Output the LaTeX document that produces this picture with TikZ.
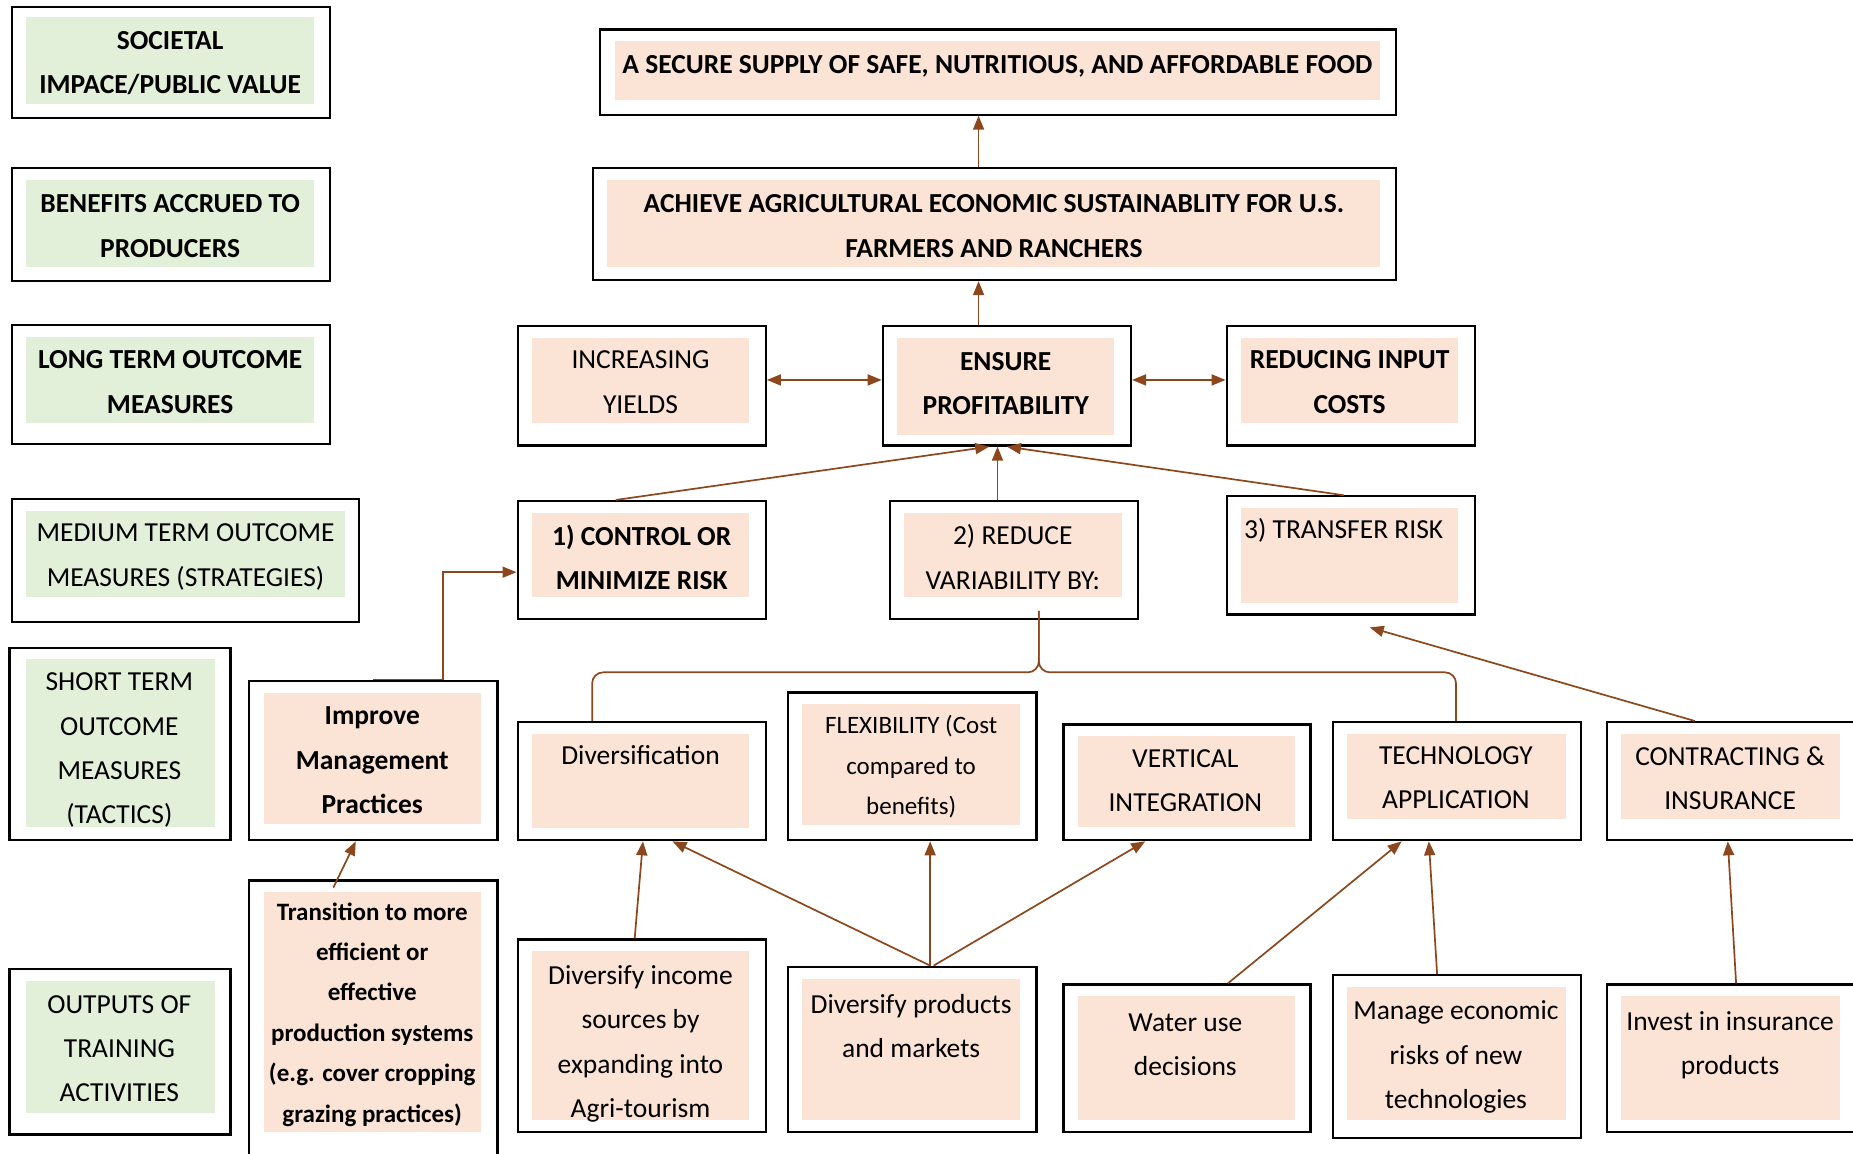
\documentclass[tikz,border=0pt]{standalone}
\usepackage{fontspec}
\setmainfont{Carlito}
\usetikzlibrary{arrows.meta,fit,calc}
\definecolor{salm}{HTML}{FBE4D5}
\definecolor{grn}{HTML}{E2EFD9}
\definecolor{brn}{RGB}{140,72,28}
\tikzset{
 outerbox/.style={draw=black, line width=2.2pt, inner sep=0pt, fill=white},
 txt/.style={align=center, font=\fontsize{27.5}{44.2}\selectfont, inner sep=0pt, yshift=-2.2pt},
 smalltxt/.style={align=center, font=\fontsize{25}{40.4}\selectfont, inner sep=0pt, yshift=-2.2pt},
 conn/.style={draw=brn, line width=1.7pt},
 arr/.style={conn, -{Triangle[length=14pt,width=11pt]}},
 darr/.style={conn, {Triangle[length=14pt,width=11pt]}-{Triangle[length=14pt,width=11pt]}},
}
\newcommand\mkbox[7]{% name, x1,y1,x2,y2, inner corners, colour
  \node[outerbox, fit={(#2,#3) (#4,#5)}] (#1) {};
  \fill[#7] #6;
}
\begin{document}
\begin{tikzpicture}[x=1.1818pt,y=-1.1818pt]
\useasboundingbox[fill=white] (0,0) rectangle (1568,976);
% left column
\mkbox{soc}{10}{6}{279}{100}{(22,14) rectangle (266,88)}{grn}
\node[txt] (soct) at (144,51.5) {\bfseries SOCIETAL\\\bfseries IMPACE/PUBLIC VALUE};
\mkbox{ben}{10}{142}{279}{238}{(22,152) rectangle (266,226)}{grn}
\node[txt] (bent) at (144,189.5) {\bfseries BENEFITS ACCRUED TO\\\bfseries PRODUCERS};
\mkbox{lng}{10}{275}{279}{376}{(22,285) rectangle (266,358)}{grn}
\node[txt] (lngt) at (144,321.5) {\bfseries LONG TERM OUTCOME\\\bfseries MEASURES};
\mkbox{med}{10}{422}{304}{526}{(22,432) rectangle (292,505)}{grn}
\node[txt] (medt) at (157,469.5) {MEDIUM TERM OUTCOME\\MEASURES (STRATEGIES)};
\mkbox{sht}{8}{548}{195}{711}{(22,558) rectangle (182,700)}{grn}
\node[txt] (shtt) at (101,633) {SHORT TERM\\OUTCOME\\MEASURES\\(TACTICS)};
\mkbox{outp}{8}{820}{195}{960}{(22,830) rectangle (182,942)}{grn}
\node[txt] (outpt) at (101,885.5) {OUTPUTS OF\\TRAINING\\ACTIVITIES};
% top
\mkbox{sec}{508}{25}{1181}{97}{(520,35) rectangle (1168,85)}{salm}
\node[txt] (sect) at (844,54) {\bfseries A SECURE SUPPLY OF SAFE, NUTRITIOUS, AND AFFORDABLE FOOD};
\mkbox{ach}{502}{142}{1181}{237}{(514,152) rectangle (1168,226)}{salm}
\node[txt] (acht) at (841,189.5) {\bfseries ACHIEVE AGRICULTURAL ECONOMIC SUSTAINABLITY FOR U.S.\\\bfseries FARMERS AND RANCHERS};
\mkbox{inc}{438}{276}{648}{377}{(450,286) rectangle (634,358)}{salm}
\node[txt] (inct) at (542,321.5) {INCREASING\\YIELDS};
\mkbox{ens}{747}{276}{957}{377}{(759,286) rectangle (943,368)}{salm}
\node[txt] (enst) at (851,322.5) {\bfseries ENSURE\\\bfseries PROFITABILITY};
\mkbox{red}{1038}{276}{1248}{377}{(1050,286) rectangle (1234,358)}{salm}
\node[txt] (redt) at (1142,321.5) {\bfseries REDUCING INPUT\\\bfseries COSTS};
\mkbox{ctl}{438}{424}{648}{524}{(450,434) rectangle (634,505)}{salm}
\node[txt] (ctlt) at (543,469.5) {\bfseries 1) CONTROL OR\\\bfseries MINIMIZE RISK};
\mkbox{rdv}{753}{424}{963}{524}{(765,434) rectangle (949,505)}{salm}
\node[txt] (rdvt) at (857,469.5) {2) REDUCE\\VARIABILITY BY:};
\mkbox{trf}{1038}{420}{1248}{520}{(1050,430) rectangle (1234,510)}{salm}
\node[txt] (trft) at (1137,447) {3) TRANSFER RISK};
% tactics row
\mkbox{imp}{211}{576}{421}{711}{(223,586) rectangle (407,697)}{salm}
\node[txt] (impt) at (315,641.5) {\bfseries Improve\\\bfseries Management\\\bfseries Practices};
\mkbox{div}{438}{611}{648}{711}{(450,621) rectangle (634,701)}{salm}
\node[txt] (divt) at (542,637) {Diversification};
\mkbox{flx}{667}{586}{877}{711}{(679,596) rectangle (863,698)}{salm}
\node[smalltxt] (flxt) at (771,647) {FLEXIBILITY (Cost\\compared to\\benefits)};
\mkbox{vrt}{900}{613}{1109}{711}{(912,623) rectangle (1096,700)}{salm}
\node[txt] (vrtt) at (1003,658.5) {VERTICAL\\INTEGRATION};
\mkbox{tec}{1128}{611}{1338}{711}{(1140,621) rectangle (1325,693)}{salm}
\node[txt] (tect) at (1232,656.5) {TECHNOLOGY\\APPLICATION};
\mkbox{con}{1360}{611}{1572}{711}{(1372,621) rectangle (1557,693)}{salm}
\node[txt] (cont) at (1464,656.5) {CONTRACTING \&\\INSURANCE};
% outputs row
\mkbox{trn}{211}{745}{421}{980}{(223,755) rectangle (407,958)}{salm}
\node[smalltxt] (trnt) at (315,856.5) {\bfseries Transition to more\\\bfseries efficient or\\\bfseries effective\\\bfseries production systems\\\bfseries (e.g. cover cropping\\\bfseries grazing practices)};
\mkbox{dvi}{438}{795}{648}{958}{(450,805) rectangle (634,948)}{salm}
\node[txt] (dvit) at (542,881.5) {Diversify income\\sources by\\expanding into\\Agri-tourism};
\mkbox{dvp}{667}{818}{877}{958}{(679,828) rectangle (863,948)}{salm}
\node[txt] (dvpt) at (771,866.5) {Diversify products\\and markets};
\mkbox{wat}{900}{833}{1109}{958}{(912,843) rectangle (1096,948)}{salm}
\node[txt] (watt) at (1003,882.5) {Water use\\decisions};
\mkbox{man}{1128}{825}{1338}{963}{(1140,835) rectangle (1325,948)}{salm}
\node[txt] (mant) at (1232,892.5) {Manage economic\\risks of new\\technologies};
\mkbox{inv}{1360}{833}{1572}{958}{(1372,843) rectangle (1557,948)}{salm}
\node[txt] (invt) at (1464,882.5) {Invest in insurance\\products};
% connectors
\coordinate (ea) at ($(ens.north west)+(82,0)$);
\draw[arr] (ea) -- (ea |- ach.south);
\coordinate (aa) at ($(ach.north west)+(327,0)$);
\draw[arr] (aa) -- (aa |- sec.south);
\draw[darr] ($(inc.east)+(0,-5)$) -- ($(ens.west)+(0,-5)$);
\draw[darr] ($(ens.east)+(0,-5)$) -- ($(red.west)+(0,-5)$);
\draw[arr] ($(ctl.north west)+(84,0)$) -- ($(ens.south west)+(91,0)$);
\draw[arr] ($(rdv.north west)+(92,0)$) -- ($(ens.south west)+(98,0)$);
\draw[arr] ($(trf.north west)+(100,0)$) -- ($(ens.south west)+(106,0)$);
\draw[arr] (imp.north) -- ($(imp.north west)+(165,0)$) |- ($(ctl.north west)!0.6!(ctl.south west)$);
% brace
\coordinate (bt) at ($(rdv.south west)+(127,-8)$);
\coordinate (bm) at ($(bt)+(0,52)$);
\draw[conn, rounded corners=11pt] ($(div.north west)+(64,0)$) |- (bm) -- (bt);
\draw[conn, rounded corners=11pt] ($(tec.north west)+(105,0)$) |- (bm) -- (bt);
\draw[arr] ($(con.north west)+(75,0)$) -- ($(trf.south west)+(122,10)$);
\draw[arr] ($(trn.north west)+(72,7)$) -- ($(imp.south west)+(91,0)$);
\draw[arr] ($(dvi.north west)+(100,0)$) -- ($(div.south west)+(107,0)$);
\draw[arr] ($(dvp.north west)+(121,0)$) -- ($(div.south west)+(132,0)$);
\draw[arr] ($(dvp.north west)+(121,0)$) -- ($(flx.south west)+(121,0)$);
\draw[arr] ($(dvp.north west)+(124,0)$) -- ($(vrt.south west)+(70,0)$);
\draw[arr] ($(wat.north west)+(140,0)$) -- ($(tec.south west)+(59,0)$);
\draw[arr] ($(man.north west)+(89,0)$) -- ($(tec.south west)+(82,0)$);
\draw[arr] ($(inv.north west)+(110,0)$) -- ($(con.south west)+(103,0)$);
\end{tikzpicture}
\end{document}
